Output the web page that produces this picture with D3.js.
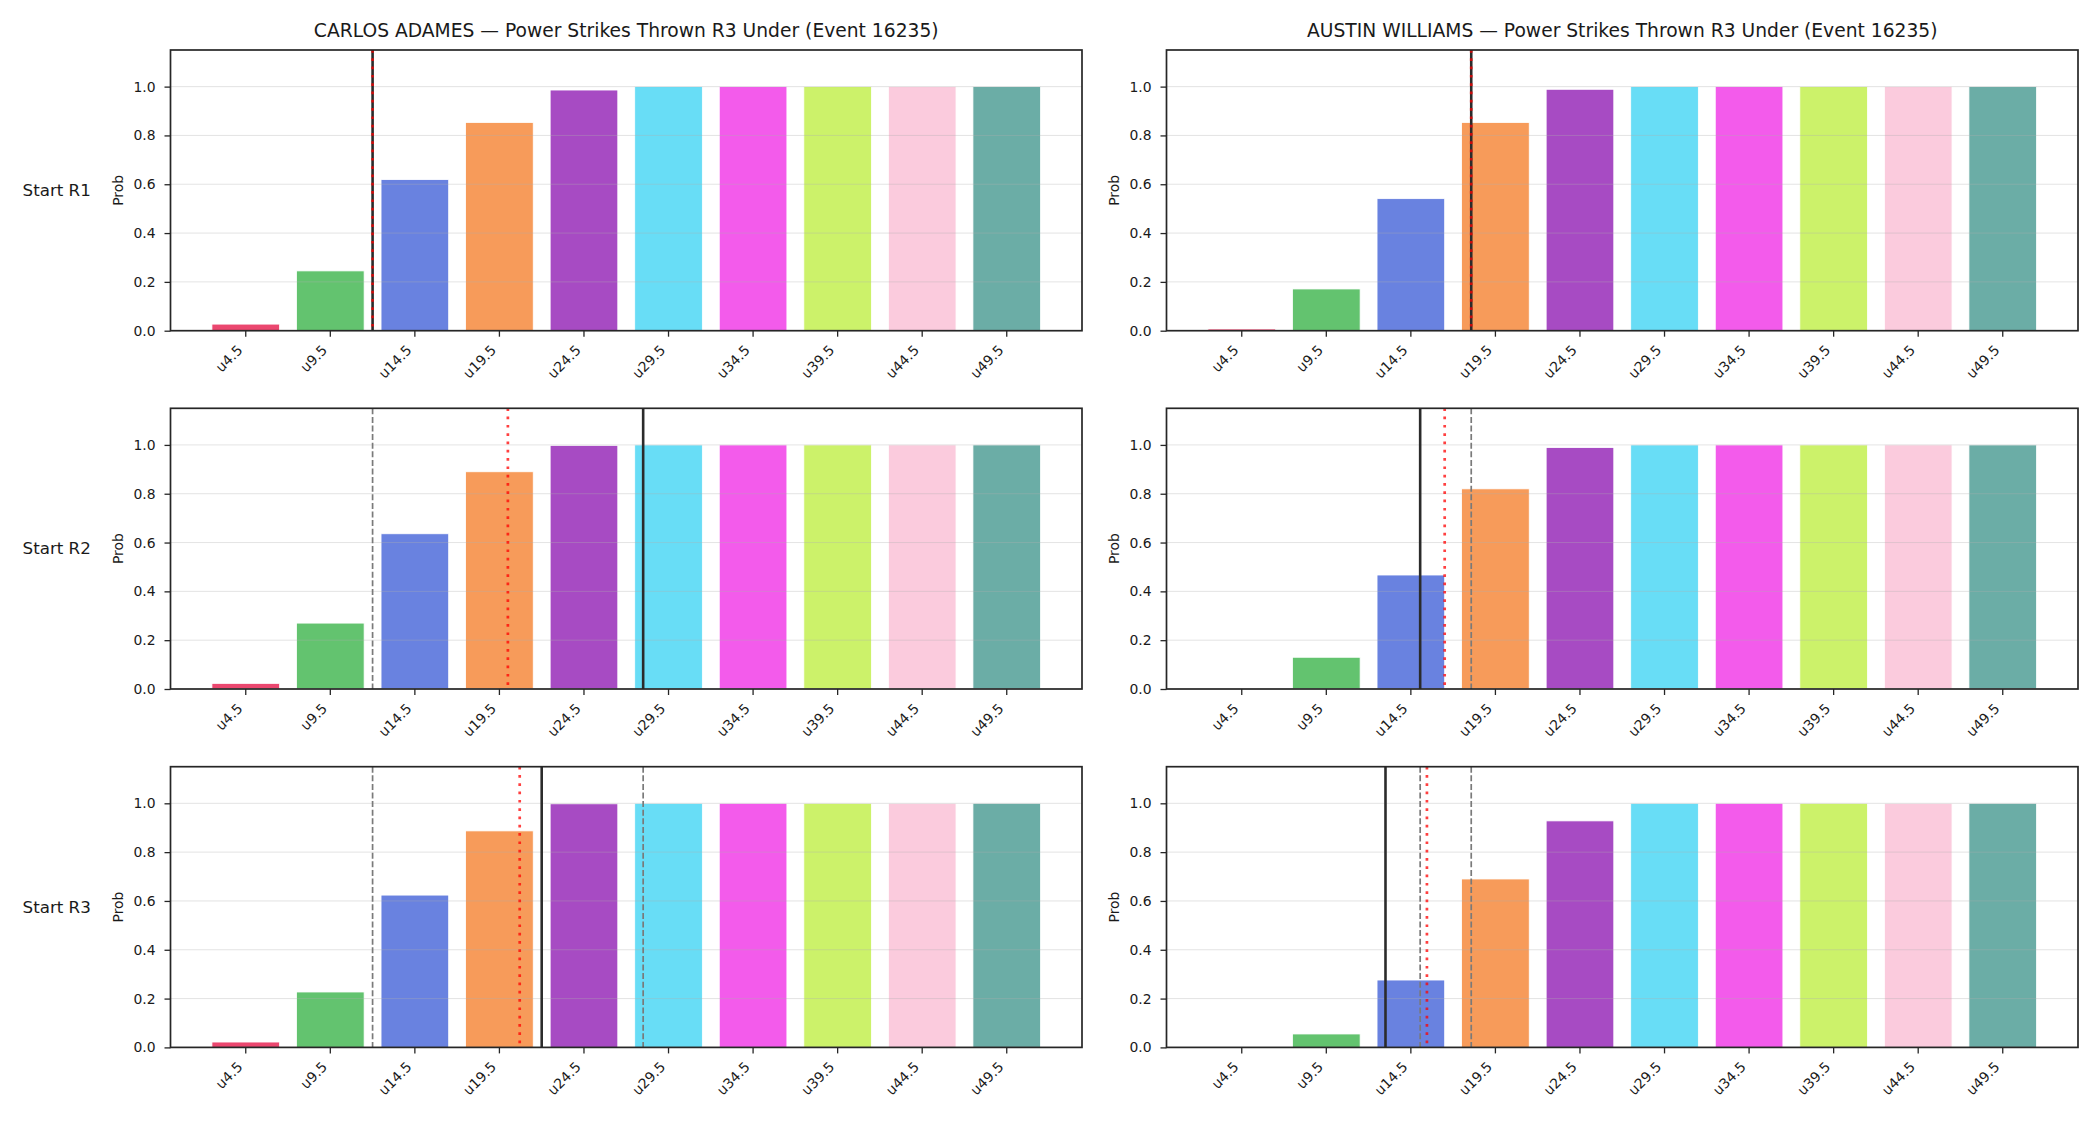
<!DOCTYPE html>
<html>
<head>
<meta charset="utf-8">
<script src="https://cdn.jsdelivr.net/npm/d3@7"></script>
<style>
  body { margin: 0; background: #fff; }
  text { font-family: "DejaVu Sans", sans-serif; fill: #1a1a1a; }
</style>
</head>
<body>
<script>

// categories (under lines) and the two fighters
var categories = ["u4.5", "u9.5", "u14.5", "u19.5", "u24.5", "u29.5", "u34.5", "u39.5", "u44.5", "u49.5"];
var thresholds = [4.5, 9.5, 14.5, 19.5, 24.5, 29.5, 34.5, 39.5, 44.5, 49.5];
var fighters = ["CARLOS ADAMES", "AUSTIN WILLIAMS"];
var rowLabels = ["Start R1", "Start R2", "Start R3"];
var yTicks = [0, 0.2, 0.4, 0.6, 0.8, 1.0];

// under probabilities, one array per fighter per round
var adamesR1 = [0.027, 0.245, 0.619, 0.853, 0.986, 1.0, 1.0, 1.0, 1.0, 1.0];
var adamesR2 = [0.023, 0.270, 0.636, 0.890, 0.998, 1.0, 1.0, 1.0, 1.0, 1.0];
var adamesR3 = [0.022, 0.227, 0.624, 0.887, 0.998, 1.0, 1.0, 1.0, 1.0, 1.0];
var williamsR1 = [0.007, 0.171, 0.541, 0.853, 0.989, 1.0, 1.0, 1.0, 1.0, 1.0];
var williamsR2 = [0.0, 0.130, 0.467, 0.820, 0.989, 1.0, 1.0, 1.0, 1.0, 1.0];
var williamsR3 = [0.0, 0.055, 0.276, 0.690, 0.928, 1.0, 1.0, 1.0, 1.0, 1.0];

// vertical markers, in strikes: line at each round start (solid) and projection (red dotted)
var adamesLine = [12, 28, 22];
var adamesProj = [12, 20, 20.7];
var williamsLine = [18.07, 15.05, 13];
var williamsProj = [18.07, 16.5, 15.45];

var colors = ["#e6194b", "#3cb44b", "#4363d8", "#f58231", "#911eb4",
              "#42d4f4", "#f032e6", "#bfef45", "#fabed4", "#469990"];

var panels = [
    [adamesR1, williamsR1],
    [adamesR2, williamsR2],
    [adamesR3, williamsR3]
];
var lines = [adamesLine, williamsLine];
var projs = [adamesProj, williamsProj];

// layout of the grid of axes
var axLeft = [170.5, 1166.5],
    axTop = [50, 408.3, 766.7],
    axWidth = 911.5,
    axHeight = 280.7;

var svg = d3.select("body").append("svg")
    .attr("width", 2100)
    .attr("height", 1125);

var x = d3.scaleBand()
    .domain(categories)
    .range([0, axWidth])
    .paddingInner(0.2)
    .paddingOuter(0.49);

// linear scale in strikes, lined up with the bar centres
var xLine = d3.scaleLinear()
    .domain([thresholds[0], thresholds[thresholds.length - 1]])
    .range([x(categories[0]) + x.bandwidth() / 2, x(categories[categories.length - 1]) + x.bandwidth() / 2]);

var y = d3.scaleLinear()
    .domain([0, 1.15])
    .range([axHeight, 0]);

panels.forEach(function(row, r) {
    row.forEach(function(values, c) {
        var g = svg.append("g")
            .attr("transform", "translate(" + axLeft[c] + "," + axTop[r] + ")");

        // bars
        g.selectAll(".bar")
            .data(values)
            .enter().append("rect")
            .attr("class", "bar")
            .attr("x", function(d, i) { return x(categories[i]); })
            .attr("width", x.bandwidth())
            .attr("y", function(d) { return y(d); })
            .attr("height", function(d) { return axHeight - y(d); })
            .attr("fill", function(d, i) { return colors[i]; })
            .attr("fill-opacity", 0.8)
            .attr("stroke", function(d) { return d > 0 ? "#fff" : "none"; })
            .attr("stroke-width", 0.8);

        // horizontal grid on top of the bars
        g.selectAll(".grid")
            .data(yTicks)
            .enter().append("line")
            .attr("class", "grid")
            .attr("x1", 0)
            .attr("x2", axWidth)
            .attr("y1", function(d) { return y(d); })
            .attr("y2", function(d) { return y(d); })
            .attr("stroke", "#b0b0b0")
            .attr("stroke-opacity", 0.35)
            .attr("stroke-width", 1);

        // previous rounds' lines, grey dashed
        g.selectAll(".prev")
            .data(lines[c].slice(0, r))
            .enter().append("line")
            .attr("class", "prev")
            .attr("x1", function(d) { return xLine(d); })
            .attr("x2", function(d) { return xLine(d); })
            .attr("y1", 0)
            .attr("y2", axHeight)
            .attr("stroke", "#7a7a7a")
            .attr("stroke-width", 1.7)
            .attr("stroke-dasharray", "6,2.6");

        // current line, solid
        g.append("line")
            .attr("x1", xLine(lines[c][r]))
            .attr("x2", xLine(lines[c][r]))
            .attr("y1", 0)
            .attr("y2", axHeight)
            .attr("stroke", "#2b2b2b")
            .attr("stroke-width", 2.6);

        // projection, red dotted
        g.append("line")
            .attr("x1", xLine(projs[c][r]))
            .attr("x2", xLine(projs[c][r]))
            .attr("y1", 0)
            .attr("y2", axHeight)
            .attr("stroke", "red")
            .attr("stroke-opacity", 0.75)
            .attr("stroke-width", 2.7)
            .attr("stroke-dasharray", "2.7,5.6");

        // y axis
        var yAxis = g.append("g")
            .call(d3.axisLeft(y).tickValues(yTicks).tickFormat(d3.format(".1f")).tickSize(6).tickPadding(9));
        yAxis.select(".domain").remove();
        yAxis.selectAll("line").attr("stroke", "#262626").attr("stroke-width", 1.3);
        yAxis.selectAll("text").attr("font-size", "13.9px").attr("fill", "#1a1a1a")
            .attr("font-family", "DejaVu Sans");

        // x axis with rotated labels
        var xAxis = g.append("g")
            .attr("transform", "translate(0," + axHeight + ")")
            .call(d3.axisBottom(x).tickSize(6).tickSizeOuter(0));
        xAxis.select(".domain").remove();
        xAxis.selectAll("line").attr("stroke", "#262626").attr("stroke-width", 1.3);
        xAxis.selectAll("text")
            .attr("font-size", "13.9px")
            .attr("font-family", "DejaVu Sans")
            .attr("fill", "#1a1a1a")
            .attr("y", 0)
            .attr("dy", 0)
            .style("text-anchor", "end")
            .attr("transform", "translate(-2.3,20.4) rotate(-45)");

        // frame
        g.append("rect")
            .attr("width", axWidth)
            .attr("height", axHeight)
            .attr("fill", "none")
            .attr("stroke", "#262626")
            .attr("stroke-width", 1.7);

        // y label
        g.append("text")
            .attr("transform", "translate(-47.8," + (axHeight / 2) + ") rotate(-90)")
            .style("text-anchor", "middle")
            .attr("font-size", "13.9px")
            .text("Prob");

        // title on the top row only
        if (r === 0) {
            g.append("text")
                .attr("x", axWidth / 2)
                .attr("y", -12.7)
                .style("text-anchor", "middle")
                .attr("font-size", "18.7px")
                .text(fighters[c] + " \u2014 Power Strikes Thrown R3 Under (Event 16235)");
        }
    });

    // row label at the far left
    svg.append("text")
        .attr("x", 56.7)
        .attr("y", axTop[r] + axHeight / 2 + 5.7)
        .style("text-anchor", "middle")
        .attr("font-size", "16.7px")
        .text(rowLabels[r]);
});

</script>
</body>
</html>
